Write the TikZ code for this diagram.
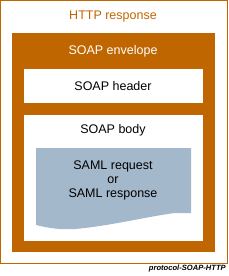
\documentclass[tikz,border=0pt]{standalone}
\usepackage{fontspec}
\setmainfont{Liberation Sans}
\usetikzlibrary{calc}
\definecolor{soapOrange}{RGB}{192,102,0}
\definecolor{samlBlue}{RGB}{164,184,204}
\newcommand{\boxfont}{\fontsize{12.5}{14}\selectfont}

\begin{document}
\begin{tikzpicture}[x=1pt,y=-1pt,
  boxtext/.style={inner sep=0pt,font=\boxfont},
  whitebox/.style={fill=white,draw=none}]
\useasboundingbox (0,0) rectangle (228,276);
% outer HTTP box
\draw[soapOrange,line width=1pt] (0.5,0.5) rectangle (227.5,263.5);
\node[boxtext,text=soapOrange] (http) at (113,16) {HTTP response};
% envelope
\fill[soapOrange] (12,33) rectangle (215,252);
\node[boxtext,text=white] (envelope) at (113,51) {SOAP envelope};
\fill[whitebox] (24,69) rectangle (203,103);
\node[boxtext] (header) at (113,86) {SOAP header};
\fill[whitebox] (24,115) rectangle (203,241);
\node[boxtext] (body) at (113,130) {SOAP body};
% SAML document
\fill[samlBlue] (36,148) -- (191,148) -- (191,213) -- (175,213)
  .. controls (150,216) and (110,226) .. (75,229)
  .. controls (60,230) and (48,228) .. (36,225) -- cycle;
\node[boxtext,align=center] (saml) at (113,180) {SAML request\\or\\SAML response};
\node[inner sep=0pt,anchor=east,font=\fontsize{7.6}{8}\selectfont\bfseries\itshape] (tag) at (226,269) {protocol-SOAP-HTTP};
\end{tikzpicture}
\end{document}
